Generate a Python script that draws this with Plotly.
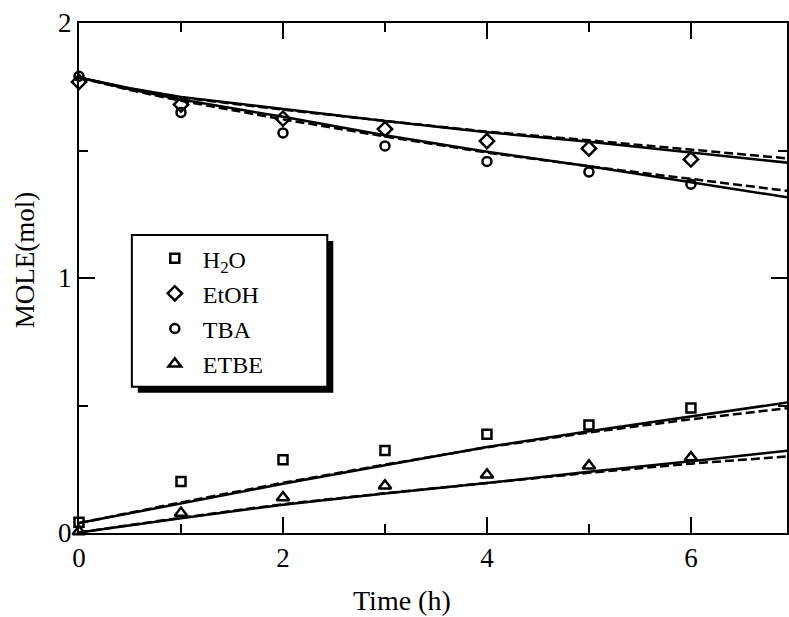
import plotly.graph_objects as go

# ---------------- data ----------------
time_obs = [0, 1, 2, 3, 4, 5, 6]
h2o_obs = [0.042, 0.202, 0.287, 0.324, 0.387, 0.424, 0.490]
etoh_obs = [1.769, 1.680, 1.625, 1.584, 1.537, 1.508, 1.465]
tba_obs = [1.791, 1.649, 1.569, 1.518, 1.457, 1.416, 1.368]
etbe_obs = [0.006, 0.078, 0.139, 0.185, 0.228, 0.264, 0.296]

time_fit = [0, 0.5, 1, 2, 3, 4, 5, 6, 7]
etoh_fit_solid = [1.786, 1.744, 1.710, 1.662, 1.616, 1.572, 1.534, 1.492, 1.450]
etoh_fit_dash = [1.786, 1.742, 1.708, 1.660, 1.616, 1.574, 1.540, 1.503, 1.467]
tba_fit_solid = [1.786, 1.740, 1.700, 1.632, 1.560, 1.495, 1.438, 1.375, 1.313]
tba_fit_dash = [1.786, 1.737, 1.695, 1.622, 1.555, 1.492, 1.438, 1.389, 1.339]
h2o_fit_solid = [0.039, 0.078, 0.117, 0.193, 0.266, 0.337, 0.399, 0.457, 0.515]
h2o_fit_dash = [0.039, 0.080, 0.120, 0.197, 0.268, 0.336, 0.394, 0.446, 0.492]
etbe_fit_solid = [0.002, 0.030, 0.058, 0.111, 0.155, 0.196, 0.240, 0.281, 0.325]
etbe_fit_dash = [0.002, 0.031, 0.060, 0.113, 0.156, 0.196, 0.236, 0.272, 0.302]

x_ticks = [0, 2, 4, 6]
x_minor = [1, 3, 5]
y_ticks = [0, 1, 2]
y_minor = [0.5, 1.5]

series_names = ["H<sub>2</sub>O", "EtOH", "TBA", "ETBE"]

# ---------------- figure ----------------
FONT = "Liberation Serif, Times New Roman, serif"
fig = go.Figure()

# fitted curves (solid and dashed)
for solid, dash in [(etoh_fit_solid, etoh_fit_dash), (tba_fit_solid, tba_fit_dash),
                    (h2o_fit_solid, h2o_fit_dash), (etbe_fit_solid, etbe_fit_dash)]:
    fig.add_trace(go.Scatter(x=time_fit, y=dash, mode="lines", showlegend=False,
                             line=dict(color="black", width=2.5, dash="9px,4px"),
                             hoverinfo="skip"))
    fig.add_trace(go.Scatter(x=time_fit, y=solid, mode="lines", showlegend=False,
                             line=dict(color="black", width=2.5), hoverinfo="skip"))

# experimental points
marker_specs = [
    (h2o_obs, "square-open", 9),
    (etoh_obs, "diamond-open", 11),
    (tba_obs, "circle-open", 9),
    (etbe_obs, "triangle-up-open", 11),
]
for i, (vals, sym, size) in enumerate(marker_specs):
    fig.add_trace(go.Scatter(
        x=time_obs, y=vals, mode="markers", name=series_names[i],
        legendgroup=f"g{i}", cliponaxis=False,
        marker=dict(symbol=sym, size=size, color="black",
                    line=dict(color="black", width=2.5)),
    ))

# legend frame with drop shadow (paper coords)
L, R, T, B = 79.0, 789.0, 22.7, 533.3
W, H = R - L, B - T
def px(xp):
    return (xp - L) / W
def py(yp):
    return (B - yp) / H

fig.add_shape(type="rect", xref="paper", yref="paper",
              x0=px(138), x1=px(334), y0=py(393), y1=py(241),
              fillcolor="black", line=dict(width=0), layer="above")
fig.add_shape(type="rect", xref="paper", yref="paper",
              x0=px(132), x1=px(328), y0=py(387), y1=py(235),
              fillcolor="white", line=dict(color="black", width=2), layer="above")

fig.update_layout(
    width=789, height=617,
    margin=dict(l=79, r=0, t=23, b=84),
    paper_bgcolor="white", plot_bgcolor="white",
    font=dict(family=FONT, color="black", size=27),
    showlegend=True,
    legend=dict(x=px(147), y=py(236), xanchor="left", yanchor="top",
                bgcolor="rgba(0,0,0,0)", borderwidth=0,
                font=dict(family=FONT, size=24, color="black"),
                tracegroupgap=1, itemwidth=46),
    xaxis=dict(range=[0, 6.942], tickvals=x_ticks, ticktext=[str(v) for v in x_ticks],
               ticks="inside", ticklen=16, tickwidth=2, tickcolor="black",
               minor=dict(tickvals=x_minor, ticks="inside", ticklen=9, tickwidth=2, tickcolor="black"),
               showline=True, linewidth=2, linecolor="black", mirror="allticks",
               showgrid=False, zeroline=False,
               tickfont=dict(family=FONT, size=27, color="black")),
    yaxis=dict(range=[0, 2], tickvals=y_ticks, ticktext=[str(v) for v in y_ticks],
               ticks="inside", ticklen=16, tickwidth=2, tickcolor="black",
               minor=dict(tickvals=y_minor, ticks="inside", ticklen=9, tickwidth=2, tickcolor="black"),
               showline=True, linewidth=2, linecolor="black", mirror="allticks",
               showgrid=False, zeroline=False,
               tickfont=dict(family=FONT, size=27, color="black")),
    annotations=[
        dict(text="Time (h)", xref="paper", yref="paper", x=px(403), y=py(601),
             xanchor="center", yanchor="middle", showarrow=False,
             font=dict(family=FONT, size=28, color="black")),
        dict(text="MOLE(mol)", xref="paper", yref="paper", x=px(25), y=py(260),
             xanchor="center", yanchor="middle", showarrow=False, textangle=-90,
             font=dict(family=FONT, size=27, color="black")),
    ],
)

fig.write_html("out.html", config={"displayModeBar": False},
               post_script="document.body.style.margin='0px';document.body.style.overflow='hidden';")
